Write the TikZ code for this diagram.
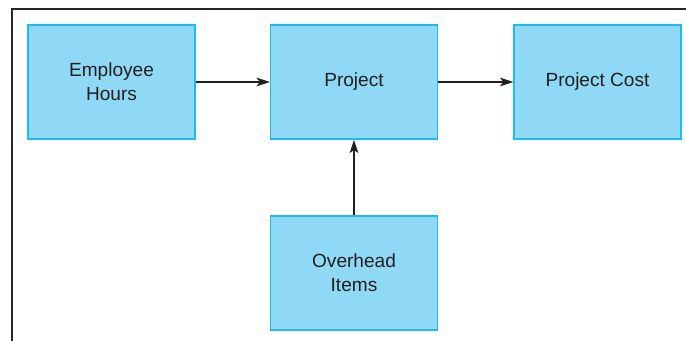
\documentclass[tikz,border=0pt]{standalone}
\usepackage{fontspec}
\setmainfont{Liberation Sans}
\usetikzlibrary{arrows.meta}
\definecolor{boxfill}{HTML}{8FD9F6}
\definecolor{boxline}{HTML}{1DBBEE}
\definecolor{txt}{HTML}{231F20}
\begin{document}
\begin{tikzpicture}[x=0.75pt,y=-0.75pt,
  blockbox/.style={draw=boxline, fill=boxfill, line width=1.2pt, minimum width=125pt, minimum height=85.5pt, align=center, inner sep=0pt, text=txt, font=\fontsize{14.3pt}{18pt}\selectfont},
  conn/.style={draw=txt, line width=1pt, -{Stealth[length=10pt,width=6.5pt,inset=2.5pt]}}]
\path[use as bounding box] (0,0) rectangle (686,341);
\draw[line width=1.6pt, draw=black!85] (12,341) -- (12,9) -- (686,9);
\node[blockbox] (eh) at (111.5,82) {Employee\\Hours};
\node[blockbox] (pr) at (354,82) {Project};
\node[blockbox] (pc) at (597.5,82) {Project Cost};
\node[blockbox] (oi) at (354,273) {Overhead\\Items};
\draw[conn] (eh) -- (pr);
\draw[conn] (pr) -- (pc);
\draw[conn] (oi) -- (pr);
\end{tikzpicture}
\end{document}
